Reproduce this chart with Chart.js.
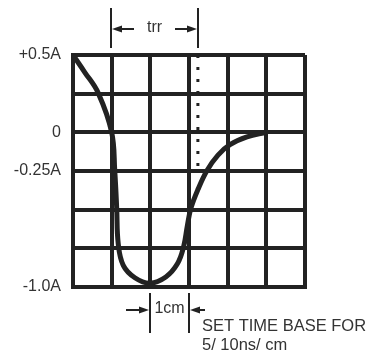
<!DOCTYPE html>
<html>
<head>
<meta charset="utf-8">
<script src="https://cdn.jsdelivr.net/npm/chart.js@4.4.0/dist/chart.umd.min.js"></script>
<style>
  body { margin: 0; background: #fff; }
</style>
</head>
<body>
<canvas id="myChart" width="371" height="354"></canvas>
<script>
  // curve (x in divisions, y in amps)
  const curveX = [0, 0.3, 0.65, 1.0, 1.08, 1.13, 1.17, 1.3, 1.6, 1.99, 2.4, 2.7, 2.86, 2.96, 3.05, 3.23, 3.47, 3.75, 4.06, 4.5, 5.0];
  const curveY = [0.5, 0.39, 0.255, 0, -0.25, -0.49, -0.72, -0.86, -0.94, -0.975, -0.935, -0.85, -0.74, -0.6, -0.49, -0.37, -0.245, -0.147, -0.08, -0.03, 0];

  // y tick labels that are shown
  const yTickValues = [0.5, 0, -0.25, -1.0];
  const yTickLabels = ['+0.5A', '0', '-0.25A', '-1.0A'];

  // markers
  const trrStart = 1;
  const trrEnd = 3.23;
  const trrLevel = -0.25;
  const cmStart = 2;
  const cmEnd = 3;

  const ink = '#222';
  const textColor = '#333';
  const family = '"Liberation Sans", Arial, sans-serif';

  const curveData = curveX.map((x, i) => ({ x: x, y: curveY[i] }));

  function arrow(ctx, tipX, tailX, y) {
    const dir = tipX > tailX ? 1 : -1;
    ctx.beginPath();
    ctx.moveTo(tailX, y);
    ctx.lineTo(tipX - dir * 6, y);
    ctx.stroke();
    ctx.beginPath();
    ctx.moveTo(tipX, y);
    ctx.lineTo(tipX - dir * 10, y - 3.5);
    ctx.lineTo(tipX - dir * 10, y + 3.5);
    ctx.closePath();
    ctx.fill();
  }

  const notes = {
    id: 'notes',
    afterDraw(chart) {
      const ctx = chart.ctx;
      const xs = chart.scales.x;
      ctx.save();
      ctx.strokeStyle = ink;
      ctx.fillStyle = ink;
      ctx.lineWidth = 2;

      // trr bracket
      const a = Math.round(xs.getPixelForValue(trrStart)) - 1;
      const b = Math.round(xs.getPixelForValue(trrEnd));
      ctx.beginPath();
      ctx.moveTo(a, 8); ctx.lineTo(a, 48);
      ctx.moveTo(b, 8); ctx.lineTo(b, 48);
      ctx.stroke();
      arrow(ctx, a + 1, a + 23, 29);
      arrow(ctx, b - 1, b - 23, 29);

      // 1cm bracket
      const c = Math.round(xs.getPixelForValue(cmStart));
      const d = Math.round(xs.getPixelForValue(cmEnd));
      ctx.beginPath();
      ctx.moveTo(c, 293); ctx.lineTo(c, 333);
      ctx.moveTo(d, 293); ctx.lineTo(d, 333);
      ctx.stroke();
      arrow(ctx, c - 1, c - 24, 310);
      arrow(ctx, d + 1, d + 16, 310);

      ctx.fillStyle = textColor;
      ctx.font = '16px ' + family;
      ctx.textBaseline = 'middle';
      ctx.textAlign = 'center';
      ctx.fillText('trr', (a + b) / 2, 28);
      ctx.fillText('1cm', (c + d) / 2, 309);
      ctx.textAlign = 'left';
      ctx.font = '16.5px ' + family;
      ctx.fillText('SET TIME BASE FOR', 202, 326);
      ctx.fillText('5/ 10ns/ cm', 202, 345);
      ctx.restore();
    }
  };

  const ctx = document.getElementById('myChart').getContext('2d');

  const myChart = new Chart(ctx, {
    type: 'line',
    data: {
      datasets: [{
        data: curveData,
        borderColor: ink,
        borderWidth: 5,
        pointRadius: 0,
        tension: 0.4,
        clip: false
      }, {
        data: [{ x: trrEnd, y: 0.5 }, { x: trrEnd, y: trrLevel }],
        borderColor: ink,
        borderWidth: 3,
        borderDash: [3, 9],
        pointRadius: 0
      }]
    },
    options: {
      responsive: false,
      animation: false,
      devicePixelRatio: 1,
      layout: { padding: { top: 55, right: 66, bottom: 67, left: 0 } },
      plugins: { legend: { display: false }, tooltip: { enabled: false } },
      scales: {
        x: {
          type: 'linear',
          min: 0,
          max: 6,
          ticks: { display: false, stepSize: 1 },
          grid: { color: ink, lineWidth: 4, drawTicks: false },
          border: { color: ink, width: 4 },
          afterFit: (s) => { s.height = 0; }
        },
        y: {
          min: -1,
          max: 0.5,
          ticks: {
            stepSize: 0.25,
            padding: 12,
            color: textColor,
            font: { family: family, size: 16 },
            callback: (v) => {
              const i = yTickValues.findIndex(t => Math.abs(t - v) < 1e-6);
              return i >= 0 ? yTickLabels[i] : '';
            }
          },
          grid: { color: ink, lineWidth: 4, drawTicks: false },
          border: { color: ink, width: 4 },
          afterFit: (s) => { s.width = 73; }
        }
      }
    },
    plugins: [notes]
  });
</script>
</body>
</html>
